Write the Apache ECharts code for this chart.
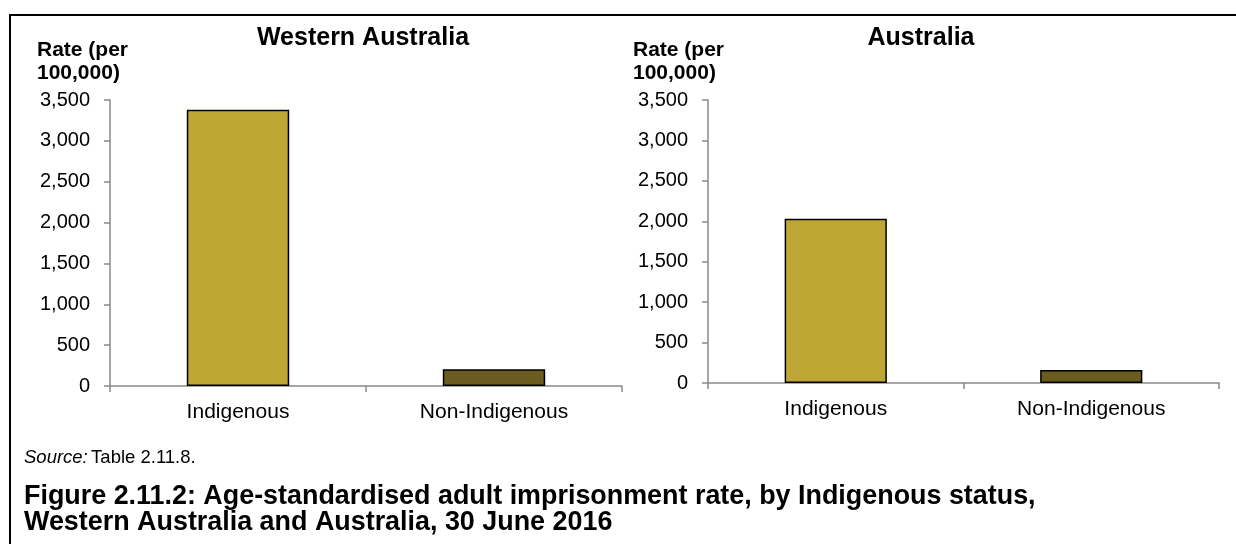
<!DOCTYPE html>
<html>
<head>
<meta charset="utf-8">
<script src="https://cdn.jsdelivr.net/npm/echarts@6/dist/echarts.min.js"></script>
<style>
  html, body { margin: 0; padding: 0; background: #fff; }
  #chart { width: 1236px; height: 544px; }
</style>
</head>
<body>
<div id="chart"></div>
<script>
// ---- data ----
const categories = ['Indigenous', 'Non-Indigenous'];
const waValues = [3380, 205];
const ausValues = [2030, 162];
const barColors = ['#BEA735', '#6B5B1F'];
const panelTitles = ['Western Australia', 'Australia'];
const yAxisName = 'Rate (per\n100,000)';
const yMin = 0, yMax = 3500, yInterval = 500;
const sourceNote = 'Table 2.11.8.';
const captionText = 'Figure 2.11.2: Age-standardised adult imprisonment rate, by Indigenous status,\nWestern Australia and Australia, 30 June 2016';

const FONT = '"Liberation Sans", Arial, sans-serif';
const axisGray = '#898989';

function fmt(v) { return Number(v).toLocaleString('en-US'); }

function xAxisCfg(gridIndex) {
  return {
    type: 'category', gridIndex, data: categories,
    axisLine: { show: true, lineStyle: { color: axisGray, width: 1.5 } },
    axisTick: { show: true, alignWithLabel: false, length: 6, lineStyle: { color: axisGray, width: 1.5 } },
    axisLabel: { color: '#000', fontFamily: FONT, fontSize: 21, margin: 16 },
    splitLine: { show: false }
  };
}
function yAxisCfg(gridIndex) {
  return {
    type: 'value', gridIndex, min: yMin, max: yMax, interval: yInterval,
    axisLine: { show: true, lineStyle: { color: axisGray, width: 1.5 } },
    axisTick: { show: true, length: 6, lineStyle: { color: axisGray, width: 1.5 } },
    axisLabel: { color: '#000', fontFamily: FONT, fontSize: 20, margin: 20, formatter: fmt },
    splitLine: { show: false }
  };
}
function barSeries(idx, values) {
  return {
    type: 'bar', xAxisIndex: idx, yAxisIndex: idx,
    barWidth: '40%',
    data: values.map((v, i) => ({ value: v, itemStyle: { color: barColors[i] } })),
    itemStyle: { borderColor: '#000', borderWidth: 1.5 },
    silent: true
  };
}

const chart = echarts.init(document.getElementById('chart'), null, { renderer: 'canvas' });
chart.setOption({
  backgroundColor: '#fff',
  animation: false,
  title: [
    { text: panelTitles[0], left: 363, top: 26, textAlign: 'center', padding: 0,
      textStyle: { fontFamily: FONT, fontSize: 25, fontWeight: 'bold', color: '#000' } },
    { text: panelTitles[1], left: 921, top: 26, textAlign: 'center', padding: 0,
      textStyle: { fontFamily: FONT, fontSize: 25, fontWeight: 'bold', color: '#000' } }
  ],
  grid: [
    { left: 110, top: 100, width: 512, height: 286 },
    { left: 708, top: 100, width: 511, height: 283 }
  ],
  xAxis: [xAxisCfg(0), xAxisCfg(1)],
  yAxis: [yAxisCfg(0), yAxisCfg(1)],
  series: [barSeries(0, waValues), barSeries(1, ausValues)],
  graphic: [
    { type: 'polyline', silent: true,
      shape: { points: [[10, 544], [10, 15], [1236, 15]] },
      style: { stroke: '#000', lineWidth: 2, fill: null } },
    { type: 'text', left: 37, top: 39, silent: true,
      style: { text: yAxisName, font: 'bold 21px ' + FONT, fill: '#000', lineHeight: 23 } },
    { type: 'text', left: 633, top: 39, silent: true,
      style: { text: yAxisName, font: 'bold 21px ' + FONT, fill: '#000', lineHeight: 23 } },
    { type: 'text', left: 24, top: 448, silent: true,
      style: {
        text: '{i|Source:} {n|' + sourceNote + '}',
        rich: {
          i: { fontStyle: 'italic', fontFamily: FONT, fontSize: 18.5, fill: '#000' },
          n: { fontFamily: FONT, fontSize: 18.5, fill: '#000' }
        }
      } },
    { type: 'text', left: 24, top: 483, silent: true,
      style: { text: captionText, font: 'bold 26.9px ' + FONT, fill: '#000', lineHeight: 26.5 } }
  ]
});
</script>
</body>
</html>
